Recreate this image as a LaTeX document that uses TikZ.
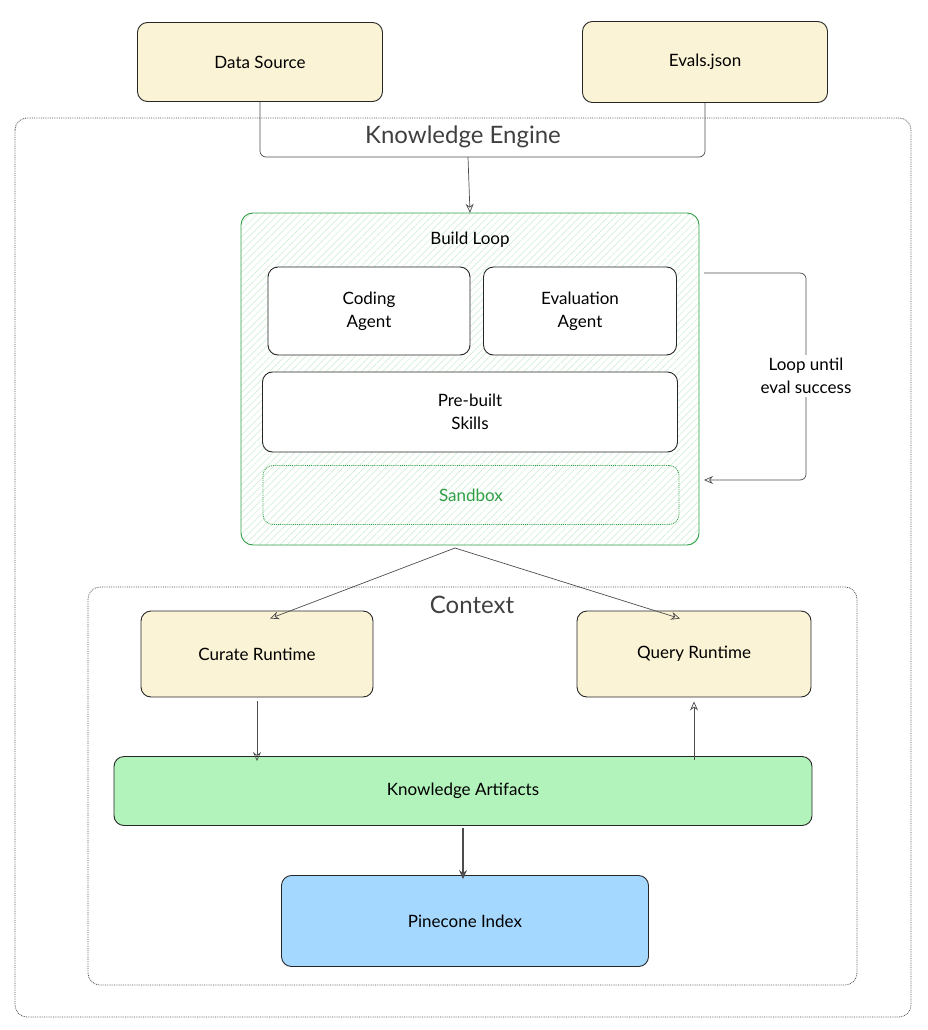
\documentclass[tikz,border=0pt]{standalone}
\usepackage{fontspec}
\setmainfont{Lato}
\usetikzlibrary{positioning,patterns.meta,arrows.meta}
\definecolor{srcyellow}{HTML}{FBF3D5}
\definecolor{artgreen}{HTML}{B2F2BB}
\definecolor{idxblue}{HTML}{A5D8FF}
\definecolor{loopgreen}{HTML}{2F9E44}
\definecolor{hatchgreen}{HTML}{C9EBCF}
\tikzset{
  box/.style = {draw=black!85, line width=0.9pt, rounded corners=10pt, align=center, font=\fontsize{17}{23}\selectfont},
  yellowbox/.style = {box, fill=srcyellow},
  whitebox/.style = {box, fill=white},
  frame/.style = {draw=black!70, densely dotted, line width=0.8pt, rounded corners=12pt},
  title/.style = {font=\fontsize{24}{28}\selectfont, text=black!75},
  link/.style = {draw=black!70, line width=0.7pt, -{Stealth[length=9pt,width=8pt,open]}},
}
\begin{document}
\begin{tikzpicture}[x=1pt, y=-1pt]
    \useasboundingbox (0,0) rectangle (927,1030);

    % frames
    \draw[frame] (15,118) rectangle (911,1017);
    \node[title] (ketitle) at (463,137) {Knowledge Engine};
    \draw[frame] (88,587) rectangle (857,985);

    % inputs
    \node[yellowbox, minimum width=245pt, minimum height=79pt] (src) at (260,62) {Data Source};
    \node[yellowbox, minimum width=245pt, minimum height=81pt] (evals) at (705,62) {Evals.json};

    % build loop
    \draw[draw=loopgreen, line width=0.9pt, rounded corners=12pt,
          pattern={Lines[angle=45,distance=5pt,line width=0.5pt]}, pattern color=hatchgreen]
          (241,213) rectangle (699,545);
    \node[draw=none, fill=none, minimum width=458pt, minimum height=332pt] (build) at (470,379) {};
    \node[font=\fontsize{17}{21}\selectfont] (buildtitle) at (470,240) {Build Loop};
    \node[whitebox, minimum width=202pt, minimum height=88pt] (coding) at (369,311) {Coding\\Agent};
    \node[whitebox, minimum width=193pt, minimum height=88pt] (evalag) at (580,311) {Evaluation\\Agent};
    \node[whitebox, minimum width=415pt, minimum height=80pt] (skills) at (470,412) {Pre-built\\Skills};
    \node[box, draw=loopgreen, densely dotted, text=loopgreen, minimum width=416pt, minimum height=59pt] (sandbox) at (471,495) {Sandbox};

    % context
    \node[title] (ctxtitle) at (472,605) {Context};
    \node[yellowbox, minimum width=232pt, minimum height=86pt] (curate) at (257,654) {Curate Runtime};
    \node[yellowbox, minimum width=234pt, minimum height=86pt] (query) at (694,654) {Query Runtime};
    \node[box, fill=artgreen, minimum width=698pt, minimum height=69pt] (artifacts) at (463,791) {Knowledge Artifacts};
    \node[box, fill=idxblue, minimum width=367pt, minimum height=91pt] (index) at (465,921) {Pinecone Index};

    % connectors
    \coordinate (merge) at (468,157);
    \draw[draw=black!70, line width=0.7pt, rounded corners=6pt] (src.south) |- (merge) -| (evals.south);
    \draw[link] (merge) -- (build.north);

    \coordinate (loopa) at (704,273);
    \coordinate (loopb) at (704,480);
    \draw[link, rounded corners=6pt] (loopa) -- (806,273) -- (806,480) -- (loopb);
    \node[fill=white, font=\fontsize{17}{23}\selectfont, align=center, inner sep=3pt] (looplbl) at (806,376) {Loop until\\eval success};

    \coordinate (split) at (455,548);
    \draw[link] (split) -- ([xshift=13pt,yshift=-8pt]curate.north);
    \draw[link] (split) -- ([xshift=-14pt,yshift=-8pt]query.north);
    \draw[link] ([yshift=-4pt]curate.south) -- ([yshift=-5pt]artifacts.north -| curate.south);
    \draw[link] ([yshift=-4pt]artifacts.north -| query.south) -- ([yshift=-4pt]query.south);
    \draw[link, line width=1.4pt] ([yshift=-2pt]artifacts.south) -- ([yshift=-4pt]index.north -| artifacts.south);
\end{tikzpicture}
\end{document}
